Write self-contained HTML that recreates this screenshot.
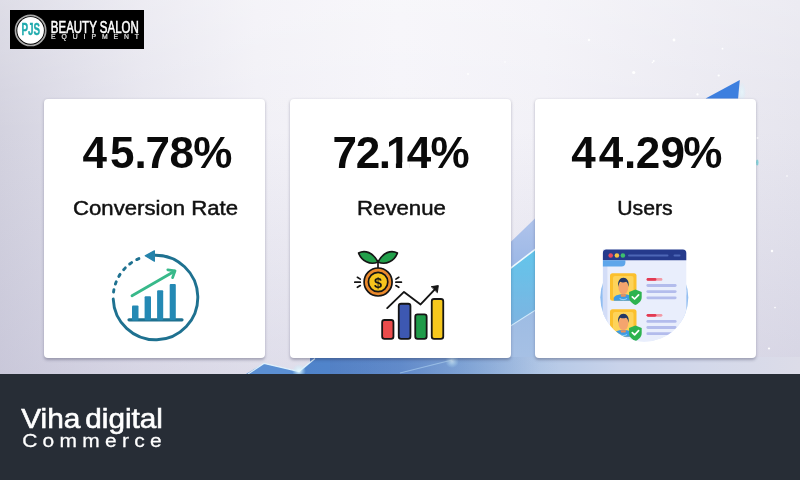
<!DOCTYPE html>
<html><head><meta charset="utf-8">
<style>
*{margin:0;padding:0;box-sizing:border-box}
html,body{width:800px;height:480px;overflow:hidden;background:#e4e4ec}
body{position:relative;font-family:"Liberation Sans",sans-serif}
#bg{position:absolute;left:0;top:0;width:800px;height:374px;overflow:hidden;
 background:linear-gradient(180deg,rgba(255,255,255,0.25) 0%,rgba(255,255,255,0) 35%,rgba(178,176,205,0.3) 100%),
 linear-gradient(90deg,#d3d2df 0%,#dad9e5 6%,#e7e6ef 18%,#f1f0f6 32%,#f5f4f9 50%,#f2f1f7 68%,#ebeaf2 86%,#e6e5ee 100%)}
#bg svg{position:absolute;left:0;top:0}
.logo{position:absolute;left:10px;top:10px;width:134px;height:39px;background:#000;overflow:hidden}
.card{position:absolute;top:98.9px;width:221px;height:259.4px;background:#fff;border-radius:4px;
 box-shadow:0 1.8px 3px rgba(40,40,70,.33)}
#icons{position:absolute;left:0;top:0}
#footer{position:absolute;left:0;top:374px;width:800px;height:106px;background:#272d36}
</style></head>
<body>
<div id="bg">
<svg width="800" height="374" viewBox="0 0 800 374">
 <defs>
  <linearGradient id="bA" x1="0" y1="0" x2="0" y2="1"><stop offset="0" stop-color="#b4c6ec"/><stop offset="1" stop-color="#97b5e5"/></linearGradient>
  <linearGradient id="bB" x1="0" y1="0" x2="0" y2="1"><stop offset="0" stop-color="#5fc7ec"/><stop offset="1" stop-color="#80b2e0"/></linearGradient>
  <linearGradient id="bC" x1="0" y1="0" x2="0" y2="1"><stop offset="0" stop-color="#9cbbe3"/><stop offset="1" stop-color="#a9c2e5"/></linearGradient>
  <linearGradient id="bot" x1="0" y1="0" x2="1" y2="0">
   <stop offset="0" stop-color="#5b88ca"/><stop offset="0.184" stop-color="#6c93cf"/><stop offset="0.327" stop-color="#8cadda"/><stop offset="0.469" stop-color="#b3c8e6"/><stop offset="0.633" stop-color="#c9d3ea"/><stop offset="0.8" stop-color="#d3d8ea"/><stop offset="1" stop-color="#dcdce8"/>
  </linearGradient>
  <filter id="sb" x="-1" y="-1" width="3" height="3"><feGaussianBlur stdDeviation="0.5"/></filter>
  <filter id="b06"><feGaussianBlur stdDeviation="0.6"/></filter>
  <linearGradient id="botv" x1="0" y1="0" x2="1" y2="0"><stop offset="0" stop-color="#2a5fb0" stop-opacity="0.25"/><stop offset="0.6" stop-color="#2a5fb0" stop-opacity="0.12"/><stop offset="1" stop-color="#2a5fb0" stop-opacity="0"/></linearGradient>
  <radialGradient id="glow" cx="0.5" cy="0.5" r="0.5"><stop offset="0" stop-color="#e8fbff" stop-opacity="0.95"/><stop offset="1" stop-color="#bfefff" stop-opacity="0"/></radialGradient>
 </defs>
 <!-- gap 2-3 bands -->
 <g filter="url(#b06)">
 <polygon points="500,252.2 545,208.8 545,241.8 500,276.3" fill="url(#bA)"/>
 <polygon points="500,276.3 545,241.8 545,304 500,332.6" fill="url(#bB)"/>
 <polygon points="500,332.6 545,304 545,374 500,374" fill="url(#bC)"/>
 <line x1="500" y1="276.3" x2="545" y2="241.8" stroke="#eefaff" stroke-width="1.6"/>
 <line x1="500" y1="332.6" x2="545" y2="304" stroke="#d8f1ff" stroke-width="1.1" opacity="0.8"/>
 </g>
 <!-- bottom strip -->
 <polygon points="310,374 310,357 800,357 800,374" fill="url(#bot)"/>
 <polygon points="246,374 264,363.4 299,371.5 315,358.5 330,357 330,374" fill="#5b8fd3"/>
 <polygon points="300,374 314,358.2 330,357 560,357 560,374" fill="url(#botv)"/>
 <polyline points="248,374 264,363.4 299,371.5 315,358.5" fill="none" stroke="#e6f7ff" stroke-width="1.2" opacity="0.9"/>
 <line x1="400" y1="373" x2="452" y2="360" stroke="#c9ecff" stroke-width="1.2" opacity="0.45"/>
 <circle cx="452" cy="361" r="7" fill="url(#glow)" opacity="0.7"/>
 <circle cx="299" cy="371" r="7" fill="url(#glow)"/>
 <g fill="#ffffff" filter="url(#sb)"><circle cx="589" cy="40" r="1.2"/><circle cx="674" cy="40" r="1.4"/><circle cx="722.5" cy="48.7" r="0.9"/><circle cx="653.7" cy="61" r="1"/><circle cx="633.7" cy="72.5" r="1.6"/><circle cx="718.7" cy="75.5" r="1.1"/><circle cx="697.5" cy="94.4" r="1.1"/><circle cx="652.5" cy="62.5" r="0.8"/><circle cx="757.5" cy="138" r="1"/><circle cx="772" cy="251" r="1.2"/><circle cx="775" cy="307.6" r="0.8"/><circle cx="769" cy="348.5" r="1.1"/><circle cx="787" cy="176" r="0.8"/><circle cx="468" cy="74" r="1.0"/><circle cx="505" cy="62" r="0.8"/></g>
 <ellipse cx="757.3" cy="162.6" rx="1.2" ry="3" fill="#6fd3d8" opacity="0.8"/>
 <!-- arrowhead -->
 <polygon points="705.6,98.5 739.8,80 738.1,98.5" fill="#3d7fdf"/>
 <ellipse cx="742" cy="92" rx="4" ry="10" fill="url(#glow)" opacity="0.7"/>
</svg>
</div>

<div class="logo">
 <svg width="134" height="39" style="position:absolute;left:0;top:0">
  <circle cx="20.6" cy="20.4" r="15.1" fill="none" stroke="#a9a9a9" stroke-width="1.7"/>
  <circle cx="20.6" cy="20.4" r="13.3" fill="#fff"/>
  <text x="11.4" y="24.6" font-family="Liberation Sans, sans-serif" font-weight="bold" font-size="17" fill="#20abae" stroke="#20abae" stroke-width="0.4" textLength="18.6" lengthAdjust="spacingAndGlyphs">PJS</text>
  <text x="40.8" y="22.8" font-family="Liberation Sans, sans-serif" font-size="15.8" fill="#fff" stroke="#fff" stroke-width="0.55" textLength="88" lengthAdjust="spacingAndGlyphs">BEAUTY SALON</text>
  <text x="41" y="29.4" font-family="Liberation Sans, sans-serif" font-size="6.8" fill="#e8e8e8" stroke="#e8e8e8" stroke-width="0.2" textLength="88" lengthAdjust="spacing">EQUIPMENT</text>
 </svg>
</div>

<div class="card" style="left:44px">
</div>
<div class="card" style="left:290px">
</div>
<div class="card" style="left:534.5px">
</div>

<div id="footer"></div>
<svg id="icons" width="800" height="480" viewBox="0 0 800 480">
 <!-- ===== Conversion icon ===== -->
 <g fill="none" stroke-linecap="round">
  <path d="M154.4,255.2 A42.3,42.3 0 1 1 113.23,298.98" stroke="#1e7190" stroke-width="2.9"/>
  <path d="M113.55,292.05 A42.3,42.3 0 0 1 141.03,257.75" stroke="#1e7190" stroke-width="2.9" stroke-dasharray="2.4 5.87"/>
  <line x1="129" y1="319.8" x2="182" y2="319.8" stroke="#1e7190" stroke-width="3.2"/>
  <line x1="132" y1="295.8" x2="174.5" y2="271.2" stroke="#38b98a" stroke-width="2.8"/>
  <polyline points="167.8,269.8 175,270.9 172.6,277.6" stroke="#38b98a" stroke-width="2.8" stroke-linejoin="round"/>
 </g>
 <polygon points="145.2,255.8 154.4,250.8 154.4,261.2" fill="#2483ab" stroke="#2483ab" stroke-width="1.2" stroke-linejoin="round"/>
 <g fill="#2489b4">
  <rect x="132" y="305.6" width="6.5" height="15" rx="1"/>
  <rect x="144.6" y="296.3" width="6.4" height="24" rx="1"/>
  <rect x="157.1" y="290.2" width="6.1" height="30" rx="1"/>
  <rect x="169.7" y="284" width="6.1" height="36" rx="1"/>
 </g>

 <!-- ===== Revenue icon ===== -->
 <g stroke="#151515" stroke-width="1.7" stroke-linejoin="round" stroke-linecap="round">
  <path d="M378,262 C373,252.5 365,249.5 358.6,253 C361.5,261 370,265.5 378,262 Z" fill="#22a04b"/>
  <path d="M378,262 C383,252.5 391,249.5 397.4,253 C394.5,261 386,265.5 378,262 Z" fill="#22a04b"/>
  <line x1="378" y1="261" x2="378" y2="267.5"/>
  <circle cx="378.1" cy="282" r="14" fill="#ec8a2c"/>
  <circle cx="378.1" cy="282" r="9.7" fill="#f6c51d"/>
  <path d="M357.4,277.3 L360.3,279.1 M354.8,282.2 L360.3,282.2 M357.4,287.3 L360.3,285.6 M398.8,277.3 L395.9,279.1 M401.4,282.2 L395.9,282.2 M398.8,287.3 L395.9,285.6" fill="none"/>
  <polyline points="387.2,308.1 404,291.9 420.6,304.4 436,288.2" fill="none" stroke-width="1.9"/>
  <polygon points="431.6,286.6 438.3,285.6 437.4,292.3" fill="#151515" stroke-width="1"/>
  <rect x="382.15" y="320" width="11.3" height="18.8" rx="2.3" fill="#ea4c4c" stroke-width="1.8"/>
  <rect x="398.75" y="303.75" width="11.7" height="35.05" rx="2.3" fill="#3d58b2" stroke-width="1.8"/>
  <rect x="415.25" y="314.35" width="11.4" height="24.45" rx="2.3" fill="#1f9b49" stroke-width="1.8"/>
  <rect x="431.75" y="299" width="11.5" height="39.8" rx="2.3" fill="#f6c81d" stroke-width="1.8"/>
 </g>
 <text x="378.1" y="287.8" text-anchor="middle" font-family="Liberation Sans, sans-serif" font-weight="bold" font-size="14.5" fill="#151515">$</text>

 <!-- ===== Users icon ===== -->
 <defs>
  <clipPath id="uc"><circle cx="644.3" cy="297.6" r="44"/></clipPath>
  <linearGradient id="ug" x1="0" y1="0" x2="1" y2="0">
   <stop offset="0" stop-color="#86b7ef"/><stop offset="0.1" stop-color="#cfdff9"/><stop offset="0.88" stop-color="#e4ebfc"/><stop offset="1" stop-color="#8dbbf0"/>
  </linearGradient>
 </defs>
 <circle cx="644.3" cy="297.6" r="44" fill="url(#ug)"/>
 <rect x="602.9" y="249.6" width="83.4" height="48" rx="3.5" fill="#e9eefc"/>
 <rect x="602.9" y="249.6" width="4.5" height="48" fill="#d3ddf7"/>
 <g clip-path="url(#uc)">
  <rect x="602.9" y="290" width="83.4" height="60" fill="#e9eefc"/>
  <rect x="602.9" y="290" width="4.5" height="60" fill="#d3ddf7"/>
 </g>
 <path d="M602.9,253.1 a3.5,3.5 0 0 1 3.5,-3.5 h76.4 a3.5,3.5 0 0 1 3.5,3.5 v7.2 h-83.4 z" fill="#253a8c"/>
 <path d="M602.9,260.3 h22.5 v2.2 a4,4 0 0 1 -4,4 h-18.5 z" fill="#5ea6ea"/>
 <circle cx="610.7" cy="255.5" r="2.3" fill="#e84a5e"/>
 <circle cx="616.9" cy="255.5" r="2.3" fill="#f3c443"/>
 <circle cx="622.9" cy="255.5" r="2.3" fill="#3dbf6e"/>
 <line x1="629" y1="255.5" x2="667.5" y2="255.5" stroke="#4d66b6" stroke-width="2" stroke-linecap="round"/>
 <line x1="674.5" y1="255.5" x2="679.5" y2="255.5" stroke="#4d66b6" stroke-width="2" stroke-linecap="round"/>
 <!-- rows -->
 <g>
  <rect x="610" y="273.3" width="26.5" height="27.5" rx="2.5" fill="#fbc02d"/>
  <rect x="613" y="276" width="20.5" height="22" rx="2" fill="#fdd35a"/>
  <path d="M613.8,300.8 v-2.4 c0,-2.6 4,-4.2 9.5,-4.2 s9.5,1.6 9.5,4.2 v2.4 z" fill="#3d9be4"/>
  <path d="M620.5,294.3 h5.6 l-0.6,2.4 h-4.4 z" fill="#e98f5c"/>
  <path d="M619.6,298.4 c1.5,1.6 5.8,1.6 7.4,0" fill="none" stroke="#8fd0f7" stroke-width="1.1"/>
  <ellipse cx="623.4" cy="287.6" rx="4.9" ry="6.6" fill="#f5a46e"/>
  <path d="M618.3,287 c-1,-5.8 1.6,-9.2 5.1,-9.2 s6.2,3.4 5.1,9.2 c-0.4,-2.6 -1.2,-4.6 -2.4,-5.2 c-1.8,0.9 -4.6,0.9 -5.6,0 c-1.2,0.7 -1.9,2.6 -2.2,5.2 z" fill="#233766"/>
  <path d="M635.4,289.6 l6.3,2.4 v5 c0,4 -3,6.5 -6.3,8 c-3.3,-1.5 -6.3,-4 -6.3,-8 v-5 z" fill="#2db34f"/>
  <polyline points="632.3,296.8 634.6,299 638.6,294.8" fill="none" stroke="#fff" stroke-width="1.7" stroke-linecap="round" stroke-linejoin="round"/>
  <line x1="648" y1="279.4" x2="661" y2="279.4" stroke="#f29aa6" stroke-width="2.8" stroke-linecap="round"/>
  <line x1="648" y1="279.4" x2="655" y2="279.4" stroke="#e23a52" stroke-width="2.8" stroke-linecap="round"/>
  <g stroke="#b3bcec" stroke-width="2.8" stroke-linecap="round">
   <line x1="647.8" y1="285.5" x2="675.2" y2="285.5"/>
   <line x1="647.8" y1="291.6" x2="675.2" y2="291.6"/>
   <line x1="647.8" y1="297.8" x2="675.2" y2="297.8"/>
  </g>
 </g>
 <g clip-path="url(#uc)"><g transform="translate(0,35.9)">
  <rect x="610" y="273.3" width="26.5" height="27.5" rx="2.5" fill="#fbc02d"/>
  <rect x="613" y="276" width="20.5" height="22" rx="2" fill="#fdd35a"/>
  <path d="M613.8,300.8 v-2.4 c0,-2.6 4,-4.2 9.5,-4.2 s9.5,1.6 9.5,4.2 v2.4 z" fill="#3d9be4"/>
  <path d="M620.5,294.3 h5.6 l-0.6,2.4 h-4.4 z" fill="#e98f5c"/>
  <path d="M619.6,298.4 c1.5,1.6 5.8,1.6 7.4,0" fill="none" stroke="#8fd0f7" stroke-width="1.1"/>
  <ellipse cx="623.4" cy="287.6" rx="4.9" ry="6.6" fill="#f5a46e"/>
  <path d="M618.3,287 c-1,-5.8 1.6,-9.2 5.1,-9.2 s6.2,3.4 5.1,9.2 c-0.4,-2.6 -1.2,-4.6 -2.4,-5.2 c-1.8,0.9 -4.6,0.9 -5.6,0 c-1.2,0.7 -1.9,2.6 -2.2,5.2 z" fill="#233766"/>
  <path d="M635.4,289.6 l6.3,2.4 v5 c0,4 -3,6.5 -6.3,8 c-3.3,-1.5 -6.3,-4 -6.3,-8 v-5 z" fill="#2db34f"/>
  <polyline points="632.3,296.8 634.6,299 638.6,294.8" fill="none" stroke="#fff" stroke-width="1.7" stroke-linecap="round" stroke-linejoin="round"/>
  <line x1="648" y1="279.4" x2="661" y2="279.4" stroke="#f29aa6" stroke-width="2.8" stroke-linecap="round"/>
  <line x1="648" y1="279.4" x2="655" y2="279.4" stroke="#e23a52" stroke-width="2.8" stroke-linecap="round"/>
  <g stroke="#b3bcec" stroke-width="2.8" stroke-linecap="round">
   <line x1="647.8" y1="285.5" x2="675.2" y2="285.5"/>
   <line x1="647.8" y1="291.6" x2="675.2" y2="291.6"/>
   <line x1="647.8" y1="297.8" x2="675.2" y2="297.8"/>
  </g>
 </g></g>
 <!-- ===== card text ===== -->
 <g font-family="Liberation Sans, sans-serif" font-weight="bold" font-size="44" fill="#0a0a0a">
  <text x="82.4 110.0 134.6 145.5 169.6 193.3" y="168">45.78%</text>
  <text x="332.4 355.8 378.8 386 406.8 430.4" y="168">72.14%</text>
  <text x="571.2 598.8 624.1 635.8 660.5 683.2" y="168">44.29%</text>
 </g>
 <rect x="388.2" y="162.5" width="7.7" height="7" fill="#fff"/>
 <rect x="402.1" y="162.5" width="7.6" height="7" fill="#fff"/>
 <g font-family="Liberation Sans, sans-serif" font-size="19.4" fill="#111" stroke="#111" stroke-width="0.45">
  <text x="73" y="215.3" textLength="165" lengthAdjust="spacingAndGlyphs">Conversion Rate</text>
  <text x="357" y="215.3" textLength="88.9" lengthAdjust="spacingAndGlyphs">Revenue</text>
  <text x="617.25" y="215.3" textLength="55.45" lengthAdjust="spacingAndGlyphs">Users</text>
 </g>
 <!-- footer text -->
 <g font-family="Liberation Sans, sans-serif" fill="#ffffff">
  <text y="428" font-size="27.4" stroke="#fff" stroke-width="0.6"><tspan x="21.2" textLength="59.2" lengthAdjust="spacingAndGlyphs">Viha</tspan> <tspan x="85.3" textLength="77.6" lengthAdjust="spacingAndGlyphs">digital</tspan></text>
  <text x="0" y="446.6" transform="translate(22.2,0) scale(1.134,1)" font-size="18.5" stroke="#fff" stroke-width="0.25" textLength="123" lengthAdjust="spacing">Commerce</text>
 </g>
</svg>

</body></html>
